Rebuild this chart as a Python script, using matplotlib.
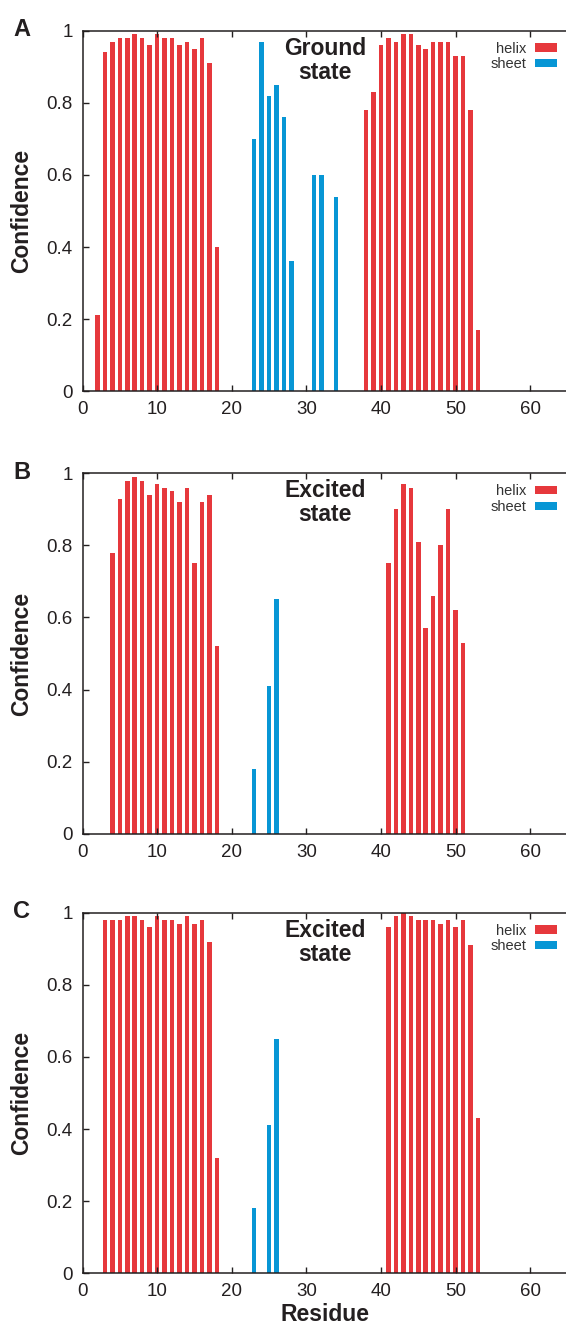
import matplotlib
matplotlib.use("Agg")
import matplotlib.pyplot as plt
from matplotlib.patches import Patch
from matplotlib.ticker import MultipleLocator, FuncFormatter

plt.rcParams["font.family"] = ["Liberation Sans", "DejaVu Sans"]

HELIX_COLOR = "#E6383C"
SHEET_COLOR = "#0796D5"
TEXT_COLOR = "#231F20"

# Panel A: ground state
a_helix_res = [2, 3, 4, 5, 6, 7, 8, 9, 10, 11, 12, 13, 14, 15, 16, 17, 18,
               38, 39, 40, 41, 42, 43, 44, 45, 46, 47, 48, 49, 50, 51, 52, 53]
a_helix_val = [0.21, 0.94, 0.97, 0.98, 0.98, 0.99, 0.98, 0.96, 0.99, 0.98, 0.98,
               0.96, 0.97, 0.95, 0.98, 0.91, 0.40,
               0.78, 0.83, 0.96, 0.98, 0.97, 0.99, 0.99, 0.96, 0.95, 0.97, 0.97,
               0.97, 0.93, 0.93, 0.78, 0.17]
a_sheet_res = [23, 24, 25, 26, 27, 28, 31, 32, 34]
a_sheet_val = [0.70, 0.97, 0.82, 0.85, 0.76, 0.36, 0.60, 0.60, 0.54]

# Panel B: excited state
b_helix_res = [4, 5, 6, 7, 8, 9, 10, 11, 12, 13, 14, 15, 16, 17, 18,
               41, 42, 43, 44, 45, 46, 47, 48, 49, 50, 51]
b_helix_val = [0.78, 0.93, 0.98, 0.99, 0.98, 0.94, 0.97, 0.96, 0.95, 0.92, 0.96,
               0.75, 0.92, 0.94, 0.52,
               0.75, 0.90, 0.97, 0.96, 0.81, 0.57, 0.66, 0.80, 0.90, 0.62, 0.53]
b_sheet_res = [23, 25, 26]
b_sheet_val = [0.18, 0.41, 0.65]

# Panel C: excited state
c_helix_res = [3, 4, 5, 6, 7, 8, 9, 10, 11, 12, 13, 14, 15, 16, 17, 18,
               41, 42, 43, 44, 45, 46, 47, 48, 49, 50, 51, 52, 53]
c_helix_val = [0.98, 0.98, 0.98, 0.99, 0.99, 0.98, 0.96, 0.99, 0.98, 0.98, 0.97,
               0.99, 0.97, 0.98, 0.92, 0.32,
               0.96, 0.99, 1.00, 0.99, 0.98, 0.98, 0.98, 0.97, 0.98, 0.96, 0.98,
               0.91, 0.43]
c_sheet_res = [23, 25, 26]
c_sheet_val = [0.18, 0.41, 0.65]

panels = [
    ("A", "Ground\nstate", a_helix_res, a_helix_val, a_sheet_res, a_sheet_val),
    ("B", "Excited\nstate", b_helix_res, b_helix_val, b_sheet_res, b_sheet_val),
    ("C", "Excited\nstate", c_helix_res, c_helix_val, c_sheet_res, c_sheet_val),
]

W, H = 566, 1327
fig = plt.figure(figsize=(W / 100, H / 100), dpi=100)

left = 82.5 / W
width = 485 / W
tops_px = [30.7, 473.3, 912.7]
height_px = 360.5

BAR_W = 0.6

for (letter, state, h_res, h_val, s_res, s_val), top_px in zip(panels, tops_px):
    bottom = 1 - (top_px + height_px) / H
    ax = fig.add_axes([left, bottom, width, height_px / H])

    ax.bar(h_res, h_val, width=BAR_W, color=HELIX_COLOR, linewidth=0)
    ax.bar(s_res, s_val, width=BAR_W, color=SHEET_COLOR, linewidth=0)

    ax.set_xlim(0, 65)
    ax.set_ylim(0, 1)
    ax.xaxis.set_major_locator(MultipleLocator(10))
    ax.yaxis.set_major_locator(MultipleLocator(0.2))
    ax.yaxis.set_major_formatter(FuncFormatter(lambda v, p: f"{v:g}"))
    ax.tick_params(axis="both", direction="in", length=4, width=1.0,
                   labelsize=13.5, colors=TEXT_COLOR)
    ax.tick_params(axis="y", pad=7)
    ax.tick_params(axis="x", top=True, labeltop=False, pad=7)
    for sp in ax.spines.values():
        sp.set_linewidth(1.1)
        sp.set_color(TEXT_COLOR)

    ax.set_ylabel("Confidence", fontsize=16.5, fontweight="bold",
                  color=TEXT_COLOR)
    ax.yaxis.set_label_coords(-(82.5 - 33) / 485, 0.5)

    ax.text(0.5, 1 - 6 / height_px, state, transform=ax.transAxes,
            ha="center", va="top", fontsize=16.5, fontweight="bold",
            color=TEXT_COLOR, linespacing=1.05)

    fig.text(13 / W, 1 - (top_px - 1) / H, letter, ha="left", va="center",
             fontsize=17, fontweight="bold", color=TEXT_COLOR)

    handles = [Patch(facecolor=HELIX_COLOR, edgecolor="none", label="helix"),
               Patch(facecolor=SHEET_COLOR, edgecolor="none", label="sheet")]
    leg = ax.legend(handles=handles, loc="upper right",
                    bbox_to_anchor=(1.0, 1.0), borderaxespad=0,
                    borderpad=0.75, frameon=False, markerfirst=False,
                    fontsize=10.5, handlelength=1.45, handleheight=0.5,
                    handletextpad=0.6, labelspacing=0.12)
    for t in leg.get_texts():
        t.set_color("#333333")

    if letter == "C":
        ax.set_xlabel("Residue", fontsize=16.5, fontweight="bold",
                      color=TEXT_COLOR, labelpad=2)

fig.savefig("out.png", dpi=100)
